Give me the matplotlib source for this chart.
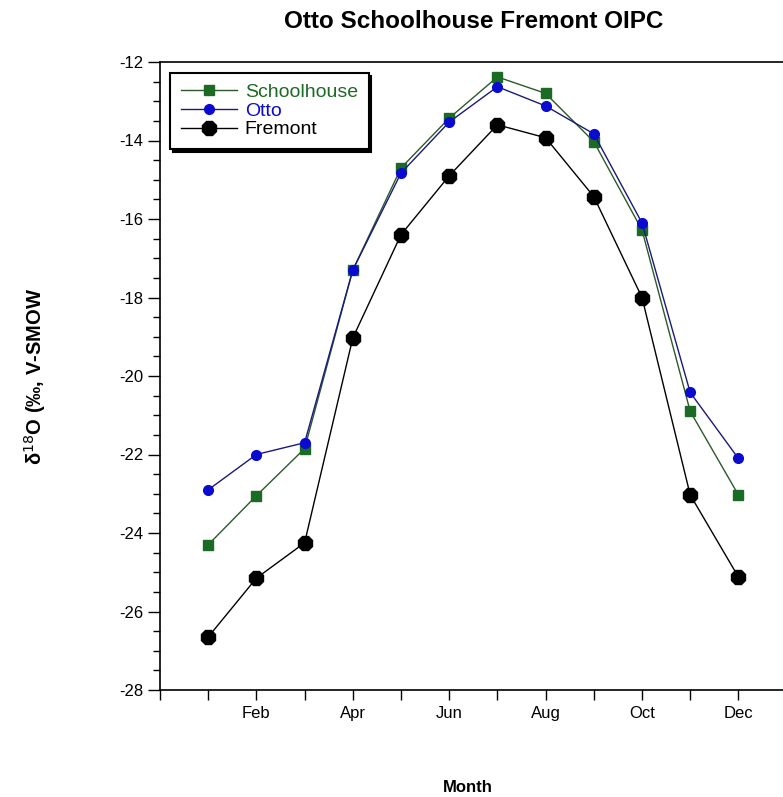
import matplotlib

matplotlib.use("Agg")
import matplotlib.pyplot as plt
from matplotlib.ticker import MultipleLocator, FixedLocator, FixedFormatter

plt.rcParams["font.family"] = ["Liberation Sans", "DejaVu Sans"]
plt.rcParams["axes.unicode_minus"] = False

months = list(range(1, 13))
month_ticks = list(range(0, 14))
month_labels = ["", "", "Feb", "", "Apr", "", "Jun", "", "Aug", "", "Oct", "", "Dec", ""]

schoolhouse = [-24.3, -23.05, -21.85, -17.3, -14.7, -13.43, -12.38, -12.8, -14.03, -16.28, -20.9, -23.03]
otto = [-22.9, -22.0, -21.7, -17.3, -14.83, -13.53, -12.63, -13.12, -13.83, -16.1, -20.42, -22.1]
fremont = [-26.65, -25.15, -24.25, -19.03, -16.4, -14.9, -13.6, -13.93, -15.43, -18.0, -23.03, -25.12]

fig = plt.figure(figsize=(7.83, 7.97), dpi=100)
ax = fig.add_axes([160 / 783, 107 / 797, 1 - 160 / 783, 628 / 797])

ax.plot(months, schoolhouse, color="#2b5a2b", lw=1.0, marker="s", ms=6.5,
        mfc="#1c6b24", mec="#1c6b24", label="Schoolhouse")
ax.plot(months, otto, color="#1a1a7a", lw=1.0, marker="o", ms=7,
        mfc="#0a0ad0", mec="#0a0ad0", label="Otto")
ax.plot(months, fremont, color="black", lw=1.0, marker="8", ms=11.5,
        mfc="black", mec="black", label="Fremont")

ax.set_xlim(0, 623 / 48.2)
ax.set_ylim(-28, -12)
ax.xaxis.set_major_locator(FixedLocator(month_ticks))
ax.xaxis.set_major_formatter(FixedFormatter(month_labels))
ax.yaxis.set_major_locator(MultipleLocator(2))
ax.yaxis.set_minor_locator(MultipleLocator(0.5))
ax.tick_params(axis="x", direction="out", length=7.5, width=1, labelsize=12, pad=4)
ax.tick_params(axis="y", which="major", direction="out", length=8.5, width=1, labelsize=12, pad=3.5)
ax.tick_params(axis="y", which="minor", direction="out", length=5, width=1)
ax.spines["right"].set_visible(False)
for s in ("left", "bottom", "top"):
    ax.spines[s].set_linewidth(1.2)

leg = ax.legend(loc="upper left", bbox_to_anchor=(10 / 623, 1 - 11 / 628),
                frameon=True, fancybox=False, edgecolor="black",
                shadow={"color": "black", "alpha": 1.0},
                fontsize=14, labelcolor=["#1c6b24", "#0a0ad0", "black"],
                handlelength=2.9, handletextpad=0.4, labelspacing=0.05,
                borderpad=0.55, borderaxespad=0)
leg.get_frame().set_linewidth(1.5)

fig.text(474 / 783, 1 - 22 / 797, "Otto Schoolhouse Fremont OIPC",
         ha="center", va="center", fontsize=17.5, fontweight="bold")
fig.text(468 / 783, 1 - 787 / 797, "Month", ha="center", va="center",
         fontsize=12, fontweight="bold")
fig.text(35 / 783, 1 - 376 / 797, "δ$^{18}$O (‰, V-SMOW", rotation=90,
         ha="center", va="center", fontsize=14.5, fontweight="bold")

fig.savefig("out.png", dpi=100)
